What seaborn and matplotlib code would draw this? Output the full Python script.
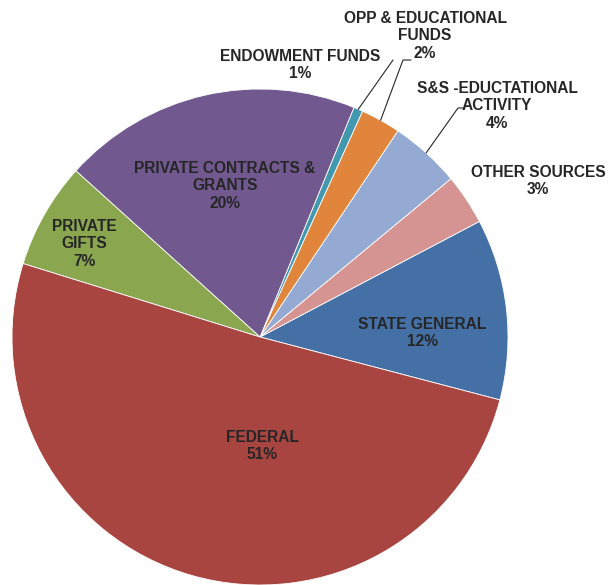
import numpy as np
import matplotlib
matplotlib.use('Agg')
import matplotlib.pyplot as plt
import seaborn as sns

# slices, counter-clockwise from the State General / Federal edge
sources = ["STATE GENERAL", "OTHER SOURCES", "S&S -EDUCTATIONAL\nACTIVITY",
           "OPP & EDUCATIONAL\nFUNDS", "ENDOWMENT FUNDS",
           "PRIVATE CONTRACTS &\nGRANTS", "PRIVATE\nGIFTS", "FEDERAL"]
shares = [11.8, 3.3, 4.6, 2.6, 0.6, 19.5, 6.9, 50.7]
pct_labels = ["12%", "3%", "4%", "2%", "1%", "20%", "7%", "51%"]
colors = ["#4470A6", "#D59391", "#95AAD2", "#E0853B", "#4198AF",
          "#71588F", "#8AA64F", "#A84541"]

sns.set_style("white")
plt.rcParams['font.family'] = ['Liberation Sans', 'DejaVu Sans']

W, H = 610, 585
fig = plt.figure(figsize=(W / 100, H / 100), dpi=100)
CX, CY, R = 260, 337, 248
ax = fig.add_axes([(CX - R) / W, (H - CY - R) / H, 2 * R / W, 2 * R / H])

wedges, _ = ax.pie(shares, colors=colors, startangle=-14.7, counterclock=True,
                   radius=1, wedgeprops=dict(edgecolor='white', linewidth=0.6))
ax.set_xlim(-1, 1)
ax.set_ylim(-1, 1)
ax.axis('off')


def px(x, y):
    return (x - CX) / R, (CY - y) / R


# label text centres in pixels
label_pos = [(422, 333), (538, 181), (497, 106), (425, 36), (300, 65),
             (225, 186), (84, 244), (262, 446)]

for name, pct, (lx, ly) in zip(sources, pct_labels, label_pos):
    x, y = px(lx, ly)
    ax.text(x, y, f"{name}\n{pct}", ha='center', va='center',
            fontsize=11.2, fontweight='bold', color='#262626', linespacing=1.2,
            clip_on=False)

# leader lines for the small slices: (slice index, elbow px, end px)
leaders = [(4, (393, 60), None), (3, (403, 60), (411, 60)),
           (2, (458, 108), (465, 108))]
for i, elbow, end in leaders:
    w = wedges[i]
    ang = np.deg2rad((w.theta1 + w.theta2) / 2)
    pts = [(np.cos(ang), np.sin(ang)), px(*elbow)]
    if end:
        pts.append(px(*end))
    xs, ys = zip(*pts)
    ax.plot(xs, ys, color='#262626', linewidth=0.8, clip_on=False)

fig.savefig("out.png", dpi=100)
